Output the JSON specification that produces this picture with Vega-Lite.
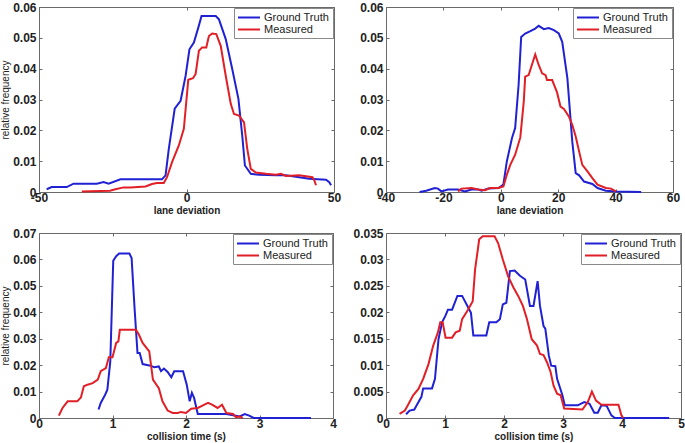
{
  "$schema": "https://vega.github.io/schema/vega-lite/v6.json",
  "padding": 0,
  "background": "white",
  "bounds": "flush",
  "columns": 2,
  "spacing": {"column": 52, "row": 41},
  "datasets": {
    "p1": [
      {"s":"Ground Truth","x":-47.4,"y":0.0009},{"s":"Ground Truth","x":-45.7,"y":0.0016},{"s":"Ground Truth","x":-40.6,"y":0.0016},{"s":"Ground Truth","x":-38.3,"y":0.0027},{"s":"Ground Truth","x":-30.4,"y":0.0027},{"s":"Ground Truth","x":-28.1,"y":0.0032},{"s":"Ground Truth","x":-26.4,"y":0.0027},{"s":"Ground Truth","x":-22.4,"y":0.0041},{"s":"Ground Truth","x":-8.3,"y":0.0041},{"s":"Ground Truth","x":-7.1,"y":0.0054},{"s":"Ground Truth","x":-6.0,"y":0.014},{"s":"Ground Truth","x":-4.0,"y":0.027},{"s":"Ground Truth","x":-2.0,"y":0.0296},{"s":"Ground Truth","x":-0.3,"y":0.0377},{"s":"Ground Truth","x":1.0,"y":0.0463},{"s":"Ground Truth","x":2.5,"y":0.0485},{"s":"Ground Truth","x":4.0,"y":0.0533},{"s":"Ground Truth","x":5.1,"y":0.0571},{"s":"Ground Truth","x":9.9,"y":0.0571},{"s":"Ground Truth","x":11.0,"y":0.056},{"s":"Ground Truth","x":13.3,"y":0.0496},{"s":"Ground Truth","x":15.5,"y":0.0399},{"s":"Ground Truth","x":17.6,"y":0.0302},{"s":"Ground Truth","x":18.9,"y":0.0183},{"s":"Ground Truth","x":19.8,"y":0.0086},{"s":"Ground Truth","x":21.8,"y":0.0059},{"s":"Ground Truth","x":24.6,"y":0.0056},{"s":"Ground Truth","x":30.3,"y":0.0054},{"s":"Ground Truth","x":33.7,"y":0.0054},{"s":"Ground Truth","x":35.9,"y":0.0051},{"s":"Ground Truth","x":41.6,"y":0.0043},{"s":"Ground Truth","x":47.3,"y":0.004},{"s":"Ground Truth","x":48.4,"y":0.0032},{"s":"Ground Truth","x":49.0,"y":0.0022},
      {"s":"Measured","x":-35.5,"y":0.0002},{"s":"Measured","x":-25.9,"y":0.0004},{"s":"Measured","x":-24.1,"y":0.0009},{"s":"Measured","x":-21.3,"y":0.0015},{"s":"Measured","x":-19.0,"y":0.0015},{"s":"Measured","x":-13.9,"y":0.0018},{"s":"Measured","x":-11.7,"y":0.0026},{"s":"Measured","x":-10.0,"y":0.0029},{"s":"Measured","x":-7.7,"y":0.0029},{"s":"Measured","x":-6.6,"y":0.0048},{"s":"Measured","x":-4.9,"y":0.0097},{"s":"Measured","x":-2.6,"y":0.0151},{"s":"Measured","x":-0.9,"y":0.0205},{"s":"Measured","x":0.6,"y":0.0364},{"s":"Measured","x":2.2,"y":0.0369},{"s":"Measured","x":3.1,"y":0.0383},{"s":"Measured","x":4.2,"y":0.0458},{"s":"Measured","x":5.3,"y":0.0469},{"s":"Measured","x":6.7,"y":0.0469},{"s":"Measured","x":7.6,"y":0.0506},{"s":"Measured","x":8.7,"y":0.0514},{"s":"Measured","x":10.1,"y":0.0512},{"s":"Measured","x":11.6,"y":0.0474},{"s":"Measured","x":13.3,"y":0.0377},{"s":"Measured","x":15.0,"y":0.0286},{"s":"Measured","x":16.1,"y":0.0253},{"s":"Measured","x":17.8,"y":0.0248},{"s":"Measured","x":19.5,"y":0.0226},{"s":"Measured","x":20.6,"y":0.014},{"s":"Measured","x":21.8,"y":0.0075},{"s":"Measured","x":23.5,"y":0.0063},{"s":"Measured","x":26.9,"y":0.0059},{"s":"Measured","x":30.3,"y":0.0056},{"s":"Measured","x":32.0,"y":0.0059},{"s":"Measured","x":33.7,"y":0.0052},{"s":"Measured","x":38.2,"y":0.0054},{"s":"Measured","x":42.7,"y":0.0048},{"s":"Measured","x":43.3,"y":0.0038},{"s":"Measured","x":43.9,"y":0.0022}
    ],
    "p2": [
      {"s":"Ground Truth","x":-28.3,"y":0},{"s":"Ground Truth","x":-26,"y":0.0004},{"s":"Ground Truth","x":-23,"y":0.0013},{"s":"Ground Truth","x":-21.9,"y":0.0011},{"s":"Ground Truth","x":-20.7,"y":0.0002},{"s":"Ground Truth","x":-18.4,"y":0.0008},{"s":"Ground Truth","x":-14.9,"y":0.0008},{"s":"Ground Truth","x":-12.5,"y":0.0002},{"s":"Ground Truth","x":-10.2,"y":0.0008},{"s":"Ground Truth","x":-7.8,"y":0.0008},{"s":"Ground Truth","x":-6.7,"y":0.0004},{"s":"Ground Truth","x":-4.3,"y":0.0011},{"s":"Ground Truth","x":-0.8,"y":0.0013},{"s":"Ground Truth","x":0.9,"y":0.0024},{"s":"Ground Truth","x":2.1,"y":0.0099},{"s":"Ground Truth","x":3.9,"y":0.0175},{"s":"Ground Truth","x":5.0,"y":0.0207},{"s":"Ground Truth","x":6.2,"y":0.0347},{"s":"Ground Truth","x":7.1,"y":0.0503},{"s":"Ground Truth","x":8.5,"y":0.0514},{"s":"Ground Truth","x":10.3,"y":0.0522},{"s":"Ground Truth","x":12.0,"y":0.053},{"s":"Ground Truth","x":13.2,"y":0.0539},{"s":"Ground Truth","x":15.0,"y":0.0528},{"s":"Ground Truth","x":16.7,"y":0.0532},{"s":"Ground Truth","x":18.5,"y":0.0525},{"s":"Ground Truth","x":20.2,"y":0.0514},{"s":"Ground Truth","x":21.4,"y":0.0487},{"s":"Ground Truth","x":23.2,"y":0.0369},{"s":"Ground Truth","x":24.9,"y":0.0164},{"s":"Ground Truth","x":26.1,"y":0.0061},{"s":"Ground Truth","x":27.3,"y":0.0054},{"s":"Ground Truth","x":29.0,"y":0.0034},{"s":"Ground Truth","x":31.9,"y":0.0026},{"s":"Ground Truth","x":33.7,"y":0.0013},{"s":"Ground Truth","x":36.6,"y":0.0004},{"s":"Ground Truth","x":40.1,"y":0.0002},{"s":"Ground Truth","x":48.9,"y":0},
      {"s":"Measured","x":-14.9,"y":0.0002},{"s":"Measured","x":-13.7,"y":0.0011},{"s":"Measured","x":-10.2,"y":0.0013},{"s":"Measured","x":-7.8,"y":0.0008},{"s":"Measured","x":-5.5,"y":0.0006},{"s":"Measured","x":-3.7,"y":0.0013},{"s":"Measured","x":-0.8,"y":0.0013},{"s":"Measured","x":0.9,"y":0.0018},{"s":"Measured","x":2.1,"y":0.0056},{"s":"Measured","x":3.3,"y":0.0088},{"s":"Measured","x":5.0,"y":0.0121},{"s":"Measured","x":6.8,"y":0.0177},{"s":"Measured","x":8.0,"y":0.0293},{"s":"Measured","x":8.5,"y":0.0374},{"s":"Measured","x":9.7,"y":0.0379},{"s":"Measured","x":12.0,"y":0.0446},{"s":"Measured","x":13.2,"y":0.0412},{"s":"Measured","x":14.4,"y":0.0385},{"s":"Measured","x":15.6,"y":0.0379},{"s":"Measured","x":16.1,"y":0.0363},{"s":"Measured","x":17.9,"y":0.0363},{"s":"Measured","x":19.6,"y":0.0323},{"s":"Measured","x":20.8,"y":0.0277},{"s":"Measured","x":22.0,"y":0.0269},{"s":"Measured","x":23.7,"y":0.0245},{"s":"Measured","x":24.9,"y":0.0218},{"s":"Measured","x":26.1,"y":0.018},{"s":"Measured","x":27.3,"y":0.0131},{"s":"Measured","x":28.4,"y":0.0088},{"s":"Measured","x":30.2,"y":0.0067},{"s":"Measured","x":31.9,"y":0.0045},{"s":"Measured","x":33.7,"y":0.0024},{"s":"Measured","x":36.6,"y":0.0013},{"s":"Measured","x":38.4,"y":0.0011},{"s":"Measured","x":40.1,"y":0.0002}
    ],
    "p3": [
      {"s":"Ground Truth","x":0.81,"y":0.0032},{"s":"Ground Truth","x":0.84,"y":0.0057},{"s":"Ground Truth","x":0.9,"y":0.0088},{"s":"Ground Truth","x":0.93,"y":0.0107},{"s":"Ground Truth","x":0.97,"y":0.0214},{"s":"Ground Truth","x":1.01,"y":0.0595},{"s":"Ground Truth","x":1.05,"y":0.0612},{"s":"Ground Truth","x":1.09,"y":0.0622},{"s":"Ground Truth","x":1.23,"y":0.0622},{"s":"Ground Truth","x":1.26,"y":0.0605},{"s":"Ground Truth","x":1.3,"y":0.0416},{"s":"Ground Truth","x":1.34,"y":0.0246},{"s":"Ground Truth","x":1.37,"y":0.0246},{"s":"Ground Truth","x":1.41,"y":0.0204},{"s":"Ground Truth","x":1.5,"y":0.0199},{"s":"Ground Truth","x":1.57,"y":0.0192},{"s":"Ground Truth","x":1.63,"y":0.0195},{"s":"Ground Truth","x":1.66,"y":0.0177},{"s":"Ground Truth","x":1.7,"y":0.0187},{"s":"Ground Truth","x":1.75,"y":0.0174},{"s":"Ground Truth","x":1.8,"y":0.0154},{"s":"Ground Truth","x":1.84,"y":0.0177},{"s":"Ground Truth","x":1.96,"y":0.0177},{"s":"Ground Truth","x":2.01,"y":0.0126},{"s":"Ground Truth","x":2.05,"y":0.0063},{"s":"Ground Truth","x":2.08,"y":0.0095},{"s":"Ground Truth","x":2.11,"y":0.0076},{"s":"Ground Truth","x":2.16,"y":0.0015},{"s":"Ground Truth","x":2.55,"y":0.0015},{"s":"Ground Truth","x":2.64,"y":0.001},{"s":"Ground Truth","x":2.73,"y":0.0006},{"s":"Ground Truth","x":2.8,"y":0.0015},{"s":"Ground Truth","x":2.86,"y":0.0009},{"s":"Ground Truth","x":2.92,"y":0},{"s":"Ground Truth","x":3.7,"y":0},
      {"s":"Measured","x":0.27,"y":0.0009},{"s":"Measured","x":0.32,"y":0.0038},{"s":"Measured","x":0.39,"y":0.0063},{"s":"Measured","x":0.52,"y":0.0063},{"s":"Measured","x":0.57,"y":0.0078},{"s":"Measured","x":0.61,"y":0.012},{"s":"Measured","x":0.66,"y":0.0126},{"s":"Measured","x":0.73,"y":0.0132},{"s":"Measured","x":0.8,"y":0.0145},{"s":"Measured","x":0.84,"y":0.0177},{"s":"Measured","x":0.91,"y":0.0189},{"s":"Measured","x":0.95,"y":0.023},{"s":"Measured","x":1.0,"y":0.023},{"s":"Measured","x":1.05,"y":0.0284},{"s":"Measured","x":1.08,"y":0.029},{"s":"Measured","x":1.1,"y":0.0334},{"s":"Measured","x":1.32,"y":0.0334},{"s":"Measured","x":1.36,"y":0.0315},{"s":"Measured","x":1.41,"y":0.0284},{"s":"Measured","x":1.5,"y":0.0252},{"s":"Measured","x":1.55,"y":0.0145},{"s":"Measured","x":1.63,"y":0.0113},{"s":"Measured","x":1.68,"y":0.0063},{"s":"Measured","x":1.75,"y":0.0028},{"s":"Measured","x":1.82,"y":0.0019},{"s":"Measured","x":1.89,"y":0.0019},{"s":"Measured","x":1.93,"y":0.0023},{"s":"Measured","x":2.0,"y":0.0019},{"s":"Measured","x":2.07,"y":0.0035},{"s":"Measured","x":2.16,"y":0.0038},{"s":"Measured","x":2.23,"y":0.0048},{"s":"Measured","x":2.3,"y":0.0057},{"s":"Measured","x":2.36,"y":0.005},{"s":"Measured","x":2.43,"y":0.0038},{"s":"Measured","x":2.49,"y":0.005},{"s":"Measured","x":2.55,"y":0.0019},{"s":"Measured","x":2.64,"y":0.0015},{"s":"Measured","x":2.68,"y":0.0003},{"s":"Measured","x":2.73,"y":0.0006},{"s":"Measured","x":2.77,"y":0}
    ],
    "p4": [
      {"s":"Ground Truth","x":0.34,"y":0.0007},{"s":"Ground Truth","x":0.4,"y":0.0014},{"s":"Ground Truth","x":0.48,"y":0.0016},{"s":"Ground Truth","x":0.52,"y":0.0024},{"s":"Ground Truth","x":0.6,"y":0.004},{"s":"Ground Truth","x":0.63,"y":0.0056},{"s":"Ground Truth","x":0.78,"y":0.0056},{"s":"Ground Truth","x":0.83,"y":0.0074},{"s":"Ground Truth","x":0.89,"y":0.0149},{"s":"Ground Truth","x":0.95,"y":0.0181},{"s":"Ground Truth","x":1.01,"y":0.0194},{"s":"Ground Truth","x":1.05,"y":0.0205},{"s":"Ground Truth","x":1.12,"y":0.0205},{"s":"Ground Truth","x":1.21,"y":0.0231},{"s":"Ground Truth","x":1.29,"y":0.0231},{"s":"Ground Truth","x":1.38,"y":0.0212},{"s":"Ground Truth","x":1.44,"y":0.0199},{"s":"Ground Truth","x":1.48,"y":0.0156},{"s":"Ground Truth","x":1.7,"y":0.0156},{"s":"Ground Truth","x":1.75,"y":0.0181},{"s":"Ground Truth","x":1.87,"y":0.0181},{"s":"Ground Truth","x":1.93,"y":0.0187},{"s":"Ground Truth","x":1.98,"y":0.0215},{"s":"Ground Truth","x":2.04,"y":0.0218},{"s":"Ground Truth","x":2.1,"y":0.0278},{"s":"Ground Truth","x":2.18,"y":0.0279},{"s":"Ground Truth","x":2.27,"y":0.0269},{"s":"Ground Truth","x":2.36,"y":0.0262},{"s":"Ground Truth","x":2.44,"y":0.0212},{"s":"Ground Truth","x":2.5,"y":0.0212},{"s":"Ground Truth","x":2.57,"y":0.0259},{"s":"Ground Truth","x":2.61,"y":0.0212},{"s":"Ground Truth","x":2.67,"y":0.0174},{"s":"Ground Truth","x":2.7,"y":0.0169},{"s":"Ground Truth","x":2.76,"y":0.0118},{"s":"Ground Truth","x":2.8,"y":0.0099},{"s":"Ground Truth","x":2.87,"y":0.0098},{"s":"Ground Truth","x":2.9,"y":0.0074},{"s":"Ground Truth","x":2.99,"y":0.0043},{"s":"Ground Truth","x":3.03,"y":0.0024},{"s":"Ground Truth","x":3.25,"y":0.0024},{"s":"Ground Truth","x":3.36,"y":0.003},{"s":"Ground Truth","x":3.45,"y":0.0027},{"s":"Ground Truth","x":3.53,"y":0.001},{"s":"Ground Truth","x":3.59,"y":0.001},{"s":"Ground Truth","x":3.65,"y":0.0024},{"s":"Ground Truth","x":3.74,"y":0.0023},{"s":"Ground Truth","x":3.82,"y":0.0005},{"s":"Ground Truth","x":3.88,"y":0},{"s":"Ground Truth","x":4.8,"y":0},
      {"s":"Measured","x":0.23,"y":0.0008},{"s":"Measured","x":0.32,"y":0.0014},{"s":"Measured","x":0.37,"y":0.0024},{"s":"Measured","x":0.46,"y":0.0043},{"s":"Measured","x":0.55,"y":0.0055},{"s":"Measured","x":0.63,"y":0.0074},{"s":"Measured","x":0.72,"y":0.0102},{"s":"Measured","x":0.8,"y":0.0137},{"s":"Measured","x":0.88,"y":0.0162},{"s":"Measured","x":0.92,"y":0.0181},{"s":"Measured","x":0.96,"y":0.0181},{"s":"Measured","x":1.01,"y":0.0152},{"s":"Measured","x":1.12,"y":0.0152},{"s":"Measured","x":1.18,"y":0.0162},{"s":"Measured","x":1.25,"y":0.0165},{"s":"Measured","x":1.29,"y":0.0187},{"s":"Measured","x":1.38,"y":0.0203},{"s":"Measured","x":1.47,"y":0.0221},{"s":"Measured","x":1.51,"y":0.0281},{"s":"Measured","x":1.58,"y":0.0338},{"s":"Measured","x":1.64,"y":0.0344},{"s":"Measured","x":1.84,"y":0.0344},{"s":"Measured","x":1.9,"y":0.0331},{"s":"Measured","x":1.98,"y":0.03},{"s":"Measured","x":2.07,"y":0.0268},{"s":"Measured","x":2.16,"y":0.0247},{"s":"Measured","x":2.24,"y":0.0231},{"s":"Measured","x":2.32,"y":0.0212},{"s":"Measured","x":2.39,"y":0.0187},{"s":"Measured","x":2.47,"y":0.0149},{"s":"Measured","x":2.56,"y":0.0137},{"s":"Measured","x":2.61,"y":0.0121},{"s":"Measured","x":2.67,"y":0.0119},{"s":"Measured","x":2.73,"y":0.0105},{"s":"Measured","x":2.79,"y":0.0087},{"s":"Measured","x":2.84,"y":0.0061},{"s":"Measured","x":2.9,"y":0.0046},{"s":"Measured","x":2.96,"y":0.0043},{"s":"Measured","x":3.02,"y":0.0018},{"s":"Measured","x":3.33,"y":0.0016},{"s":"Measured","x":3.42,"y":0.003},{"s":"Measured","x":3.49,"y":0.005},{"s":"Measured","x":3.56,"y":0.0033},{"s":"Measured","x":3.65,"y":0.0025},{"s":"Measured","x":3.94,"y":0.0025},{"s":"Measured","x":3.99,"y":0.0005},{"s":"Measured","x":4.02,"y":0}
    ]
  },
  "concat": [
    {
      "width": 295, "height": 185,
      "data": {"name": "p1"},
      "layer": [
        {
          "mark": {"type": "line", "strokeWidth": 2},
          "encoding": {
            "x": {"field": "x", "type": "quantitative", "scale": {"domain": [-50, 50], "nice": false, "zero": false}, "axis": {"values": [-50, 0, 50], "title": "lane deviation"}},
            "y": {"field": "y", "type": "quantitative", "scale": {"domain": [0, 0.06], "nice": false}, "axis": {"values": [0, 0.01, 0.02, 0.03, 0.04, 0.05, 0.06], "title": "relative frequency"}},
            "color": {"field": "s", "type": "nominal", "scale": {"domain": ["Ground Truth", "Measured"], "range": ["#2121d4", "#e11f27"]}, "legend": {"title": null, "symbolType": "M-1,0H3", "orient": "top-right"}}
          }
        },
        {
          "mark": {"type": "line", "opacity": 0},
          "encoding": {
            "x": {"field": "x", "type": "quantitative", "axis": {"orient": "top", "values": [-50, 0, 50], "labels": false, "title": null}},
            "y": {"field": "y", "type": "quantitative", "axis": {"orient": "right", "values": [0, 0.01, 0.02, 0.03, 0.04, 0.05, 0.06], "labels": false, "title": null}},
            "detail": {"field": "s"}
          }
        }
      ],
      "resolve": {"axis": {"x": "independent", "y": "independent"}}
    },
    {
      "width": 287, "height": 185,
      "data": {"name": "p2"},
      "layer": [
        {
          "mark": {"type": "line", "strokeWidth": 2},
          "encoding": {
            "x": {"field": "x", "type": "quantitative", "scale": {"domain": [-40, 60], "nice": false, "zero": false}, "axis": {"values": [-40, -20, 0, 20, 40, 60], "title": "lane deviation"}},
            "y": {"field": "y", "type": "quantitative", "scale": {"domain": [0, 0.06], "nice": false}, "axis": {"values": [0, 0.01, 0.02, 0.03, 0.04, 0.05, 0.06], "title": null}},
            "color": {"field": "s", "type": "nominal", "scale": {"domain": ["Ground Truth", "Measured"], "range": ["#2121d4", "#e11f27"]}, "legend": {"title": null, "symbolType": "M-1,0H3", "orient": "top-right"}}
          }
        },
        {
          "mark": {"type": "line", "opacity": 0},
          "encoding": {
            "x": {"field": "x", "type": "quantitative", "axis": {"orient": "top", "values": [-40, -20, 0, 20, 40, 60], "labels": false, "title": null}},
            "y": {"field": "y", "type": "quantitative", "axis": {"orient": "right", "values": [0, 0.01, 0.02, 0.03, 0.04, 0.05, 0.06], "labels": false, "title": null}},
            "detail": {"field": "s"}
          }
        }
      ],
      "resolve": {"axis": {"x": "independent", "y": "independent"}}
    },
    {
      "width": 294, "height": 185,
      "data": {"name": "p3"},
      "layer": [
        {
          "mark": {"type": "line", "strokeWidth": 2},
          "encoding": {
            "x": {"field": "x", "type": "quantitative", "scale": {"domain": [0, 4], "nice": false, "zero": false}, "axis": {"values": [0, 1, 2, 3, 4], "title": "collision time (s)"}},
            "y": {"field": "y", "type": "quantitative", "scale": {"domain": [0, 0.07], "nice": false}, "axis": {"values": [0, 0.01, 0.02, 0.03, 0.04, 0.05, 0.06, 0.07], "title": "relative frequency"}},
            "color": {"field": "s", "type": "nominal", "scale": {"domain": ["Ground Truth", "Measured"], "range": ["#2121d4", "#e11f27"]}, "legend": {"title": null, "symbolType": "M-1,0H3", "orient": "top-right"}}
          }
        },
        {
          "mark": {"type": "line", "opacity": 0},
          "encoding": {
            "x": {"field": "x", "type": "quantitative", "axis": {"orient": "top", "values": [0, 1, 2, 3, 4], "labels": false, "title": null}},
            "y": {"field": "y", "type": "quantitative", "axis": {"orient": "right", "values": [0, 0.01, 0.02, 0.03, 0.04, 0.05, 0.06, 0.07], "labels": false, "title": null}},
            "detail": {"field": "s"}
          }
        }
      ],
      "resolve": {"axis": {"x": "independent", "y": "independent"}}
    },
    {
      "width": 295, "height": 185,
      "data": {"name": "p4"},
      "layer": [
        {
          "mark": {"type": "line", "strokeWidth": 2},
          "encoding": {
            "x": {"field": "x", "type": "quantitative", "scale": {"domain": [0, 5], "nice": false, "zero": false}, "axis": {"values": [0, 1, 2, 3, 4, 5], "title": "collision time (s)"}},
            "y": {"field": "y", "type": "quantitative", "scale": {"domain": [0, 0.035], "nice": false}, "axis": {"values": [0, 0.005, 0.01, 0.015, 0.02, 0.025, 0.03, 0.035], "title": null}},
            "color": {"field": "s", "type": "nominal", "scale": {"domain": ["Ground Truth", "Measured"], "range": ["#2121d4", "#e11f27"]}, "legend": {"title": null, "symbolType": "M-1,0H3", "orient": "top-right"}}
          }
        },
        {
          "mark": {"type": "line", "opacity": 0},
          "encoding": {
            "x": {"field": "x", "type": "quantitative", "axis": {"orient": "top", "values": [0, 1, 2, 3, 4, 5], "labels": false, "title": null}},
            "y": {"field": "y", "type": "quantitative", "axis": {"orient": "right", "values": [0, 0.005, 0.01, 0.015, 0.02, 0.025, 0.03, 0.035], "labels": false, "title": null}},
            "detail": {"field": "s"}
          }
        }
      ],
      "resolve": {"axis": {"x": "independent", "y": "independent"}}
    }
  ],
  "resolve": {"scale": {"x": "independent", "y": "independent", "color": "independent"}},
  "config": {
    "font": "Liberation Sans",
    "view": {"stroke": "#6a6a6a", "strokeWidth": 1},
    "axis": {
      "grid": false,
      "domain": false,
      "ticks": true,
      "tickSize": -3,
      "tickColor": "#6a6a6a",
      "labelFont": "Liberation Sans",
      "labelFontSize": 12,
      "labelFontWeight": "bold",
      "labelColor": "#222222",
      "labelFlush": false,
      "labelOverlap": false,
      "labelExpr": "replace(format(datum.value, '~g'), '\u2212', '-')",
      "titleFont": "Liberation Sans",
      "titleFontSize": 10,
      "titleFontWeight": "bold",
      "titleColor": "#222222"
    },
    "axisX": {"labelPadding": 3, "titlePadding": 2},
    "axisY": {"labelPadding": 6, "titlePadding": 2, "titleFontWeight": "normal"},
    "legend": {
      "offset": 1,
      "padding": 3,
      "rowPadding": 0,
      "fillColor": "white",
      "strokeColor": "#8a8a8a",
      "labelFont": "Liberation Sans",
      "labelFontSize": 11,
      "labelColor": "#222222",
      "symbolSize": 121,
      "symbolStrokeWidth": 2,
      "labelOffset": 14
    }
  }
}
